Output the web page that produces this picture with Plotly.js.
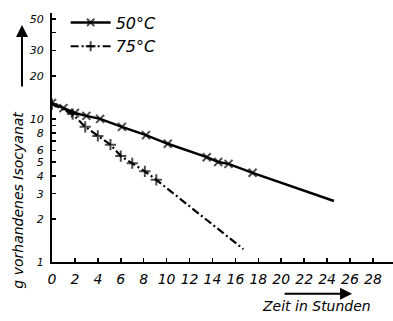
<!DOCTYPE html>
<html>
<head>
<meta charset="utf-8">
<script src="https://cdn.plot.ly/plotly-3.0.1.min.js"></script>
<style>html,body{margin:0;padding:0;background:#fff;}#chart{width:393px;height:321px;}</style>
</head>
<body>
<div id="chart"></div>
<script>
// Data
const hours50 = [0, 1, 2, 3, 4.2, 6.1, 8.2, 10.1, 13.5, 14.5, 15.4, 17.5, 24.6];
const g50     = [12.9, 11.9, 11.0, 10.5, 10.0, 8.8, 7.7, 6.7, 5.4, 5.0, 4.85, 4.2, 2.67];
const hours75 = [0, 1.8, 2.9, 4.0, 5.1, 6.0, 7.0, 8.1, 9.1, 16.7];
const g75     = [12.7, 10.8, 8.8, 7.6, 6.6, 5.5, 4.9, 4.3, 3.75, 1.23];
const label50 = '50°C';
const label75 = '75°C';
const xTicks = [0,2,4,6,8,10,12,14,16,18,20,22,24,26,28];
const yTickVals = [1,2,3,4,5,6,7,8,9,10,20,30,40,50];
const yTickText = ['1','2','3','4','5','6','','8','','10','20','30','','50'];
const xTitle = 'Zeit in Stunden';
const yTitle = 'g vorhandenes Isocyanat';

const fnt = {family: 'DejaVu Sans, sans-serif', style: 'italic', color: '#000'};

// marker sizes: last point is only the end of the drawn line
const sizes50 = hours50.map((_, i) => i === hours50.length - 1 ? 0 : 8);
const sizes75 = hours75.map((_, i) => i === hours75.length - 1 ? 0 : 8);

const traces = [
  {x: hours50, y: g50, name: label50, mode: 'lines+markers', type: 'scatter',
   line: {color: '#000', width: 2.5},
   marker: {symbol: 'x-thin-open', size: sizes50, color: '#000', line: {color: '#000', width: 2}}},
  {x: hours75, y: g75, name: label75, mode: 'lines+markers', type: 'scatter',
   line: {color: '#000', width: 2.2, dash: '8px,3px,2px,3px'},
   marker: {symbol: 'cross-thin-open', size: sizes75, color: '#000', line: {color: '#000', width: 2}}}
];

const layout = {
  width: 393, height: 321,
  margin: {l: 52, r: 0, t: 13, b: 59},
  paper_bgcolor: '#fff', plot_bgcolor: '#fff',
  showlegend: true,
  legend: {x: 0.04, y: 1.03, xanchor: 'left', yanchor: 'top', bgcolor: 'rgba(0,0,0,0)',
           font: Object.assign({}, fnt, {size: 16}), tracegroupgap: 0, itemwidth: 40},
  xaxis: {range: [0, 29.75], tickvals: xTicks, ticks: 'inside', ticklen: 4, tickwidth: 1.5,
          tickcolor: '#000', showline: true, linecolor: '#000', linewidth: 2,
          showgrid: false, zeroline: false, ticklabelstandoff: 3,
          tickfont: Object.assign({}, fnt, {size: 14})},
  yaxis: {type: 'log', range: [0, 1.74], tickvals: yTickVals, ticktext: yTickText,
          ticks: 'inside', ticklen: 4, tickwidth: 1.5, tickcolor: '#000',
          showline: true, linecolor: '#000', linewidth: 2, showgrid: false, zeroline: false,
          ticklabelstandoff: 4, tickfont: Object.assign({}, fnt, {size: 11})},
  annotations: [
    {xref: 'paper', yref: 'paper', x: -0.1, y: 0.25, xanchor: 'center', yanchor: 'middle',
     text: yTitle, textangle: -90, showarrow: false, font: Object.assign({}, fnt, {size: 14})},
    {xref: 'paper', yref: 'paper', x: 0.775, y: -0.177, xanchor: 'center', yanchor: 'middle',
     text: xTitle, showarrow: false, font: Object.assign({}, fnt, {size: 14})},
    {xref: 'paper', yref: 'paper', x: -0.088, y: 0.952, text: '', showarrow: true,
     ax: 0, ay: 63, arrowhead: 2, arrowsize: 1.2, arrowwidth: 2, arrowcolor: '#000'},
    {xref: 'paper', yref: 'paper', x: 0.88, y: -0.128, text: '', showarrow: true,
     ax: -69, ay: 0, arrowhead: 2, arrowsize: 1.2, arrowwidth: 2, arrowcolor: '#000'}
  ]
};

Plotly.newPlot('chart', traces, layout, {displayModeBar: false, staticPlot: true});
</script>
</body>
</html>
